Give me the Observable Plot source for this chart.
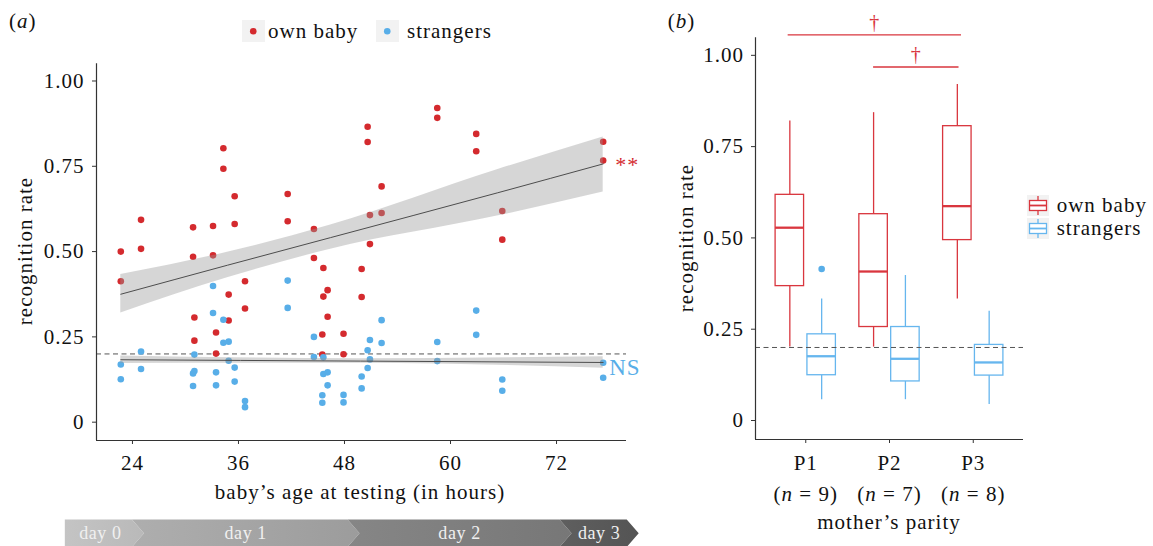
<!DOCTYPE html>
<html><head><meta charset="utf-8">
<script src="https://cdn.jsdelivr.net/npm/d3@7"></script>
<script src="https://cdn.jsdelivr.net/npm/@observablehq/plot@0.6"></script>
<style>
html,body{margin:0;padding:0;background:#fff;}
#root{position:relative;width:1153px;height:546px;overflow:hidden;font-family:"Liberation Serif","Times New Roman",serif;color:#111;}
.abs{position:absolute;white-space:nowrap;line-height:1;font-size:21px;letter-spacing:1px;}
#root svg{overflow:visible;position:absolute;top:0;}
</style></head><body><div id="root"></div>
<script>
// ---------- Panel (a) data ----------
const babyAgeHours = [22.68,24.97,30.86,31.01,33.12,33.46,34.29,34.89,35.57,36.74,41.57,44.54,45.49,45.61,46.09,47.89,49.94,50.62,50.88,52.20,58.50,62.91,65.86,77.28];
const ownRateTest1 = [0.500,0.593,0.571,0.307,0.575,0.263,0.803,0.374,0.662,0.413,0.669,0.566,0.257,0.452,0.387,0.259,0.449,0.866,0.607,0.691,0.921,0.845,0.619,0.822];
const ownRateTest2 = [0.413,0.508,0.485,0.239,0.489,0.201,0.743,0.298,0.581,0.333,0.589,0.481,0.198,0.368,0.309,0.199,0.367,0.821,0.522,0.613,0.892,0.794,0.535,0.767];
const strRateTest1 = [0.169,0.207,0.143,0.198,0.399,0.146,0.300,0.236,0.160,0.062,0.415,0.250,0.079,0.190,0.146,0.080,0.134,0.211,0.241,0.299,0.235,0.327,0.125,0.174];
const strRateTest2 = [0.126,0.156,0.106,0.150,0.320,0.108,0.233,0.180,0.119,0.044,0.335,0.191,0.057,0.141,0.108,0.058,0.099,0.159,0.184,0.232,0.179,0.256,0.092,0.130];

const ownFitHours = [22.68, 34.75, 46.43, 65.29, 77.28];
const ownFit      = [0.375, 0.460, 0.541, 0.672, 0.757];
const ownFitLow   = [0.320, 0.423, 0.507, 0.604, 0.675];
const ownFitHigh  = [0.433, 0.498, 0.578, 0.740, 0.836];
const strFitHours = [22.68, 49.83, 77.28];
const strFit      = [0.183, 0.179, 0.175];
const strFitLow   = [0.172, 0.173, 0.158];
const strFitHigh  = [0.194, 0.186, 0.192];

const chanceRate = 0.2;
const sigText = ["**", "NS"];
const sigRate = [0.755, 0.160];
const hourTicks = [24, 36, 48, 60, 72];
const rateTicks = [0, 0.25, 0.5, 0.75, 1];
const dayLabels = ["day 0", "day 1", "day 2", "day 3"];
const dayBounds = [16.4, 24.0, 48.4, 72.4, 80.0];

// ---------- Panel (b) data ----------
const parity = ["P1", "P2", "P3"];
const mothersN = [9, 7, 8];
const ownLow = [0.201, 0.201, 0.333];
const ownQ1 = [0.368, 0.256, 0.494];
const ownMedian = [0.528, 0.408, 0.587];
const ownQ3 = [0.618, 0.565, 0.806];
const ownHigh = [0.820, 0.843, 0.920];
const strLow = [0.057, 0.057, 0.044];
const strQ1 = [0.124, 0.107, 0.123];
const strMedian = [0.176, 0.169, 0.159];
const strQ3 = [0.236, 0.256, 0.207];
const strHigh = [0.333, 0.397, 0.299];
const strOutlierParity = ["P1"];
const strOutlierRate = [0.415];
const bracketX1 = [0.79, 1.81];
const bracketX2 = [2.86, 2.83];
const bracketRate = [1.056, 0.968];
const bracketText = ["†", "†"];

// ---------- styles ----------
const FONT = '"Liberation Serif","Times New Roman",serif';
const RED = "#d42a2e", BLUE = "#58aee8";
const RED_BOX = "#d9363e", BLUE_BOX = "#66b6ee";
const AXIS = "#333";
const dayFrom = ["#c4c4c4", "#aeaeae", "#868686", "#5f5f5f"];
const dayTo   = ["#b9b9b9", "#9c9c9c", "#777777", "#545454"];

const root = document.getElementById("root");

// ---------- Panel (a) ----------
const ownPts = babyAgeHours.flatMap((h, i) => [{h, v: ownRateTest1[i]}, {h, v: ownRateTest2[i]}]);
const strPts = babyAgeHours.flatMap((h, i) => [{h, v: strRateTest1[i]}, {h, v: strRateTest2[i]}]);
const ownBand = ownFitHours.map((h, i) => ({h, fit: ownFit[i], lo: ownFitLow[i], hi: ownFitHigh[i]}));
const strBand = strFitHours.map((h, i) => ({h, fit: strFit[i], lo: strFitLow[i], hi: strFitHigh[i]}));
const xDomA = [19.93, 79.92];
const yDomA = [-0.0537, 1.0504];
const lastHour = babyAgeHours[babyAgeHours.length - 1];

function dayBand(index, scales, values, dimensions) {
  const x = scales.x;
  const H = dimensions.height;
  const top = H - 26.5, bot = H + 1, mid = (top + bot) / 2, tip = 12;
  const g = d3.create("svg:g");
  const defs = g.append("defs");
  dayLabels.forEach((label, i) => {
    const x0 = x(dayBounds[i]), x1 = x(dayBounds[i + 1]);
    const id = "dayGrad" + i;
    const lg = defs.append("linearGradient").attr("id", id).attr("x1", "0").attr("x2", "1").attr("y1", "0").attr("y2", "0");
    lg.append("stop").attr("offset", "0").attr("stop-color", dayFrom[i]);
    lg.append("stop").attr("offset", "1").attr("stop-color", dayTo[i]);
    const pts = i === 0
      ? [[x0, top], [x1, top], [x1 + tip, mid], [x1, bot], [x0, bot]]
      : [[x0, top], [x1, top], [x1 + tip, mid], [x1, bot], [x0, bot], [x0 + tip, mid]];
    g.append("polygon").attr("points", pts.map(p => p.join(",")).join(" ")).attr("fill", `url(#${id})`);
    g.append("text")
      .attr("x", i === 0 ? (x0 + x1) / 2 + 2 : (x0 + tip + x1) / 2)
      .attr("y", mid).attr("dy", "0.32em")
      .attr("text-anchor", "middle").attr("fill", "#f0f0f0")
      .attr("font-size", 18).attr("letter-spacing", "0.6px")
      .text(label);
  });
  return g.node();
}

const A = Plot.plot({
  width: 660, height: 546,
  marginLeft: 96, marginRight: 34, marginTop: 63.3, marginBottom: 106,
  x: {domain: xDomA},
  y: {domain: yDomA},
  style: {fontFamily: FONT, fontSize: "21px", letterSpacing: "1px", color: "#111", background: "transparent", overflow: "visible"},
  marks: [
    Plot.ruleY([chanceRate], {stroke: "#555", strokeWidth: 1, strokeDasharray: "5,3.5"}),
    Plot.dot(ownPts, {x: "h", y: "v", r: 3.3, fill: RED, stroke: "none"}),
    Plot.dot(strPts, {x: "h", y: "v", r: 3.3, fill: BLUE, stroke: "none"}),
    Plot.areaY(ownBand, {x: "h", y1: "lo", y2: "hi", fill: "#999", fillOpacity: 0.4, curve: "monotone-x"}),
    Plot.line(ownBand, {x: "h", y: "fit", stroke: "#4d4d4d", strokeWidth: 1, curve: "monotone-x"}),
    Plot.areaY(strBand, {x: "h", y1: "lo", y2: "hi", fill: "#999", fillOpacity: 0.4, curve: "monotone-x"}),
    Plot.line(strBand, {x: "h", y: "fit", stroke: "#4d4d4d", strokeWidth: 1, curve: "monotone-x"}),
    Plot.axisY({ticks: rateTicks, tickFormat: d => d === 0 ? "0" : d.toFixed(2), tickSize: 4, tickPadding: 8, label: null, stroke: AXIS}),
    Plot.axisX({ticks: hourTicks, tickSize: 4, tickPadding: 11, label: null, stroke: AXIS}),
    Plot.ruleX([xDomA[0]], {stroke: AXIS, strokeWidth: 1.2}),
    Plot.ruleY([yDomA[0]], {stroke: AXIS, strokeWidth: 1.2}),
    Plot.text([sigText[0]], {x: () => lastHour, y: () => sigRate[0], text: d => d, dx: 12, textAnchor: "start", lineAnchor: "middle", fill: RED, fontSize: 22}),
    Plot.text([sigText[1]], {x: () => lastHour, y: () => sigRate[1], text: d => d, dx: 6, textAnchor: "start", lineAnchor: "middle", fill: BLUE, fontSize: 23}),
    dayBand
  ]
});
A.style.left = "0px";
root.appendChild(A);

// ---------- Panel (b) ----------
const DODGE = 0.19, HALF = 0.17;
const boxRows = [];
parity.forEach((p, i) => {
  boxRows.push({grp: "own", pos: i + 1 - DODGE, lo: ownLow[i], q1: ownQ1[i], med: ownMedian[i], q3: ownQ3[i], hi: ownHigh[i]});
  boxRows.push({grp: "str", pos: i + 1 + DODGE, lo: strLow[i], q1: strQ1[i], med: strMedian[i], q3: strQ3[i], hi: strHigh[i]});
});
const outliers = strOutlierParity.map((p, i) => ({pos: parity.indexOf(p) + 1 + DODGE, v: strOutlierRate[i]}));
const brackets = bracketX1.map((x1, i) => ({x1, x2: bracketX2[i], v: bracketRate[i], t: bracketText[i]}));
const colorOf = d => d.grp === "own" ? RED_BOX : BLUE_BOX;
const xDomB = [0.4, 3.6];
const yDomB = [-0.052, 1.048];

const B = Plot.plot({
  width: 493, height: 546,
  marginLeft: 95, marginRight: 130, marginTop: 37.3, marginBottom: 107,
  x: {domain: xDomB},
  y: {domain: yDomB},
  style: {fontFamily: FONT, fontSize: "21px", letterSpacing: "1px", color: "#111", background: "transparent", overflow: "visible"},
  marks: [
    Plot.ruleX(boxRows, {x: "pos", y1: "lo", y2: "q1", stroke: colorOf, strokeWidth: 1.3}),
    Plot.ruleX(boxRows, {x: "pos", y1: "q3", y2: "hi", stroke: colorOf, strokeWidth: 1.3}),
    Plot.rect(boxRows, {x1: d => d.pos - HALF, x2: d => d.pos + HALF, y1: "q1", y2: "q3", fill: "white", stroke: colorOf, strokeWidth: 1.3}),
    Plot.ruleY(boxRows, {y: "med", x1: d => d.pos - HALF, x2: d => d.pos + HALF, stroke: colorOf, strokeWidth: 2.3}),
    Plot.dot(outliers, {x: "pos", y: "v", r: 3.3, fill: BLUE, stroke: "none"}),
    Plot.ruleY([chanceRate], {stroke: "#555", strokeWidth: 1, strokeDasharray: "5,3.5"}),
    Plot.ruleY(brackets, {y: "v", x1: "x1", x2: "x2", stroke: RED_BOX, strokeWidth: 1.3}),
    Plot.text(brackets, {x: d => (d.x1 + d.x2) / 2, y: "v", text: "t", dy: -12, lineAnchor: "middle", fill: RED_BOX, fontSize: 20}),
    Plot.axisY({ticks: rateTicks, tickFormat: d => d === 0 ? "0" : d.toFixed(2), tickSize: 4, tickPadding: 7.5, label: null, stroke: AXIS}),
    Plot.axisX({ticks: [1, 2, 3], tickFormat: d => parity[d - 1], tickSize: 4, tickPadding: 12, label: null, stroke: AXIS}),
    Plot.text(parity, {x: (d, i) => i + 1, text: (d, i) => `(n = ${mothersN[i]})`, frameAnchor: "bottom", dy: 54.3, lineAnchor: "middle", className: "nlab"}),
    Plot.ruleX([xDomB[0]], {stroke: AXIS, strokeWidth: 1.2}),
    Plot.ruleY([yDomB[0]], {stroke: AXIS, strokeWidth: 1.2})
  ]
});
B.style.left = "660px";
root.appendChild(B);

// italic n in "(n = k)"
const SVGNS = "http://www.w3.org/2000/svg";
B.querySelectorAll("text").forEach(t => {
  const m = /^\(n = (\d+)\)$/.exec(t.textContent);
  if (!m) return;
  t.textContent = "(";
  const ts = document.createElementNS(SVGNS, "tspan");
  ts.setAttribute("font-style", "italic");
  ts.textContent = "n";
  t.appendChild(ts);
  t.appendChild(document.createTextNode(` = ${m[1]})`));
});

// ---------- HTML text: titles, tags, legends ----------
function place(html, x, y, anchor = "middle", extra = "") {
  const d = document.createElement("div");
  d.className = "abs";
  d.innerHTML = html;
  const tx = anchor === "middle" ? "-50%" : anchor === "end" ? "-100%" : "0";
  d.style.cssText += `left:${x}px;top:${y}px;transform:translate(${tx},-50%) ${extra};`;
  root.appendChild(d);
  return d;
}
place("(<i>a</i>)", 22.7, 21);
place("(<i>b</i>)", 681.5, 20.7);
place("baby’s age at testing (in hours)", 360, 491.7);
place("recognition rate", 25, 251, "middle", "rotate(-90deg)");
place("recognition rate", 685.5, 238, "middle", "rotate(-90deg)");
place("mother’s parity", 889, 521.7);

function key(x, y, w, h, svgInner) {
  const d = document.createElement("div");
  d.style.cssText = `position:absolute;left:${x}px;top:${y}px;width:${w}px;height:${h}px;background:#f2f2f2;`;
  d.innerHTML = `<svg width="${w}" height="${h}" style="position:absolute;left:0;top:0">${svgInner}</svg>`;
  root.appendChild(d);
}
// legend (a)
key(242, 19.5, 22.5, 22.5, `<circle cx="11.25" cy="11.25" r="3.3" fill="${RED}"/>`);
place("own baby", 268, 30.7, "start");
key(376, 19.5, 22.5, 22.5, `<circle cx="11.25" cy="11.25" r="3.3" fill="${BLUE}"/>`);
place("strangers", 407, 30.7, "start");
// legend (b)
const boxGlyph = c => `<line x1="11" x2="11" y1="1" y2="5.5" stroke="${c}" stroke-width="1.3"/><line x1="11" x2="11" y1="15.5" y2="20" stroke="${c}" stroke-width="1.3"/><rect x="2.5" y="5.5" width="17" height="10" fill="white" stroke="${c}" stroke-width="1.3"/><line x1="2.5" x2="19.5" y1="10.5" y2="10.5" stroke="${c}" stroke-width="1.8"/>`;
key(1026.5, 194.5, 22, 21, boxGlyph(RED_BOX));
place("own baby", 1056.7, 205, "start");
key(1026.5, 217.8, 22, 21, boxGlyph(BLUE_BOX));
place("strangers", 1056.7, 228.3, "start");
</script></body></html>
